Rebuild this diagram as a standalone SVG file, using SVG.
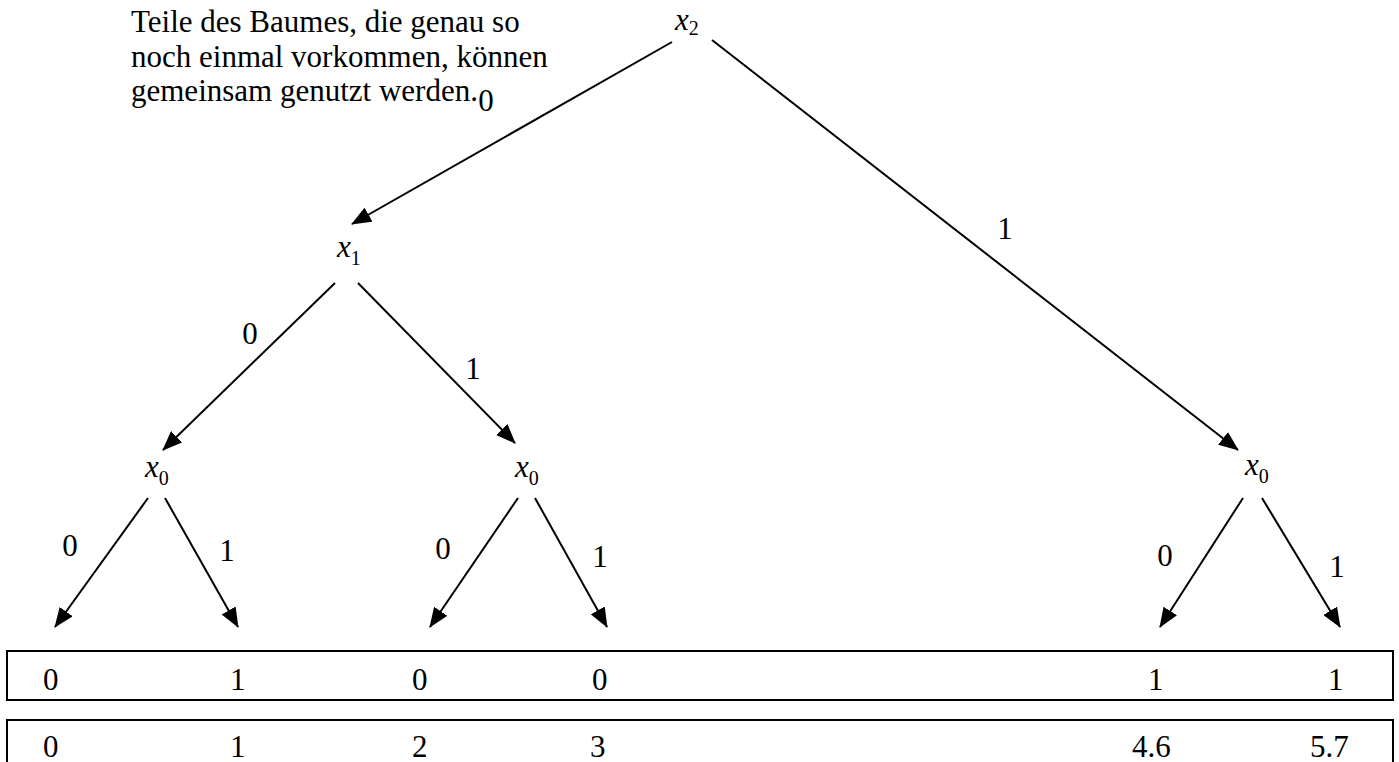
<svg xmlns="http://www.w3.org/2000/svg" width="1399" height="762" viewBox="0 0 1399 762">
<style>
text{font-family:"Liberation Serif","Times New Roman",serif;fill:#000}
.p{font-size:31px}
.lbl{font-size:31px;text-anchor:middle}
.v{font-size:31px;font-style:italic}
.sub{font-size:20px;font-style:normal}
.e{stroke:#000;stroke-width:2;fill:none;marker-end:url(#ah)}
.box{fill:#fff;stroke:#000;stroke-width:2}
</style>
<defs>
<marker id="ah" markerUnits="userSpaceOnUse" markerWidth="20" markerHeight="16" refX="19" refY="8" orient="auto" viewBox="0 0 20 16">
<path d="M0,0 L20,8 L0,16 Z" fill="#000"/>
</marker>
</defs>
<g id="note">
<text class="p" x="131" y="32">Teile des Baumes, die genau so</text>
<text class="p" x="131" y="67">noch einmal vorkommen, können</text>
<text class="p" x="131" y="101">gemeinsam genutzt werden.</text>
</g>
<g id="connectors">
<line class="e" x1="672" y1="42" x2="352" y2="224"/>
<line class="e" x1="712" y1="40" x2="1238" y2="450"/>
<line class="e" x1="335" y1="283" x2="163" y2="450"/>
<line class="e" x1="358" y1="283" x2="515" y2="443"/>
<line class="e" x1="148" y1="498" x2="55" y2="627"/>
<line class="e" x1="165" y1="498" x2="238" y2="627"/>
<line class="e" x1="518" y1="498" x2="430" y2="627"/>
<line class="e" x1="535" y1="498" x2="607" y2="627"/>
<line class="e" x1="1243" y1="498" x2="1160" y2="627"/>
<line class="e" x1="1262" y1="498" x2="1340" y2="627"/>
<text class="lbl" x="486" y="111">0</text>
<text class="lbl" x="1005" y="239">1</text>
<text class="lbl" x="250" y="344">0</text>
<text class="lbl" x="473" y="379">1</text>
<text class="lbl" x="70" y="556">0</text>
<text class="lbl" x="227" y="561">1</text>
<text class="lbl" x="443" y="559">0</text>
<text class="lbl" x="600" y="567">1</text>
<text class="lbl" x="1165" y="566">0</text>
<text class="lbl" x="1337" y="577">1</text>
</g>
<g id="n-x2"><text class="v" x="675" y="30">x<tspan class="sub" dy="5">2</tspan></text></g>
<g id="n-x1"><text class="v" x="337" y="257">x<tspan class="sub" dy="8">1</tspan></text></g>
<g id="n-x0a"><text class="v" x="145" y="477">x<tspan class="sub" dy="8">0</tspan></text></g>
<g id="n-x0b"><text class="v" x="515" y="477">x<tspan class="sub" dy="8">0</tspan></text></g>
<g id="n-x0c"><text class="v" x="1245" y="475">x<tspan class="sub" dy="8">0</tspan></text></g>
<g id="row1">
<rect class="box" x="7" y="651" width="1386" height="49"/>
<text class="p" x="43" y="690">0</text>
<text class="p" x="230" y="690">1</text>
<text class="p" x="412" y="690">0</text>
<text class="p" x="592" y="690">0</text>
<text class="p" x="1148" y="690">1</text>
<text class="p" x="1328" y="690">1</text>
</g>
<g id="row2">
<rect class="box" x="7" y="720" width="1386" height="52"/>
<text class="p" x="43" y="757">0</text>
<text class="p" x="230" y="757">1</text>
<text class="p" x="412" y="757">2</text>
<text class="p" x="590" y="757">3</text>
<text class="p" x="1132" y="757">4.6</text>
<text class="p" x="1310" y="757">5.7</text>
</g>
</svg>
